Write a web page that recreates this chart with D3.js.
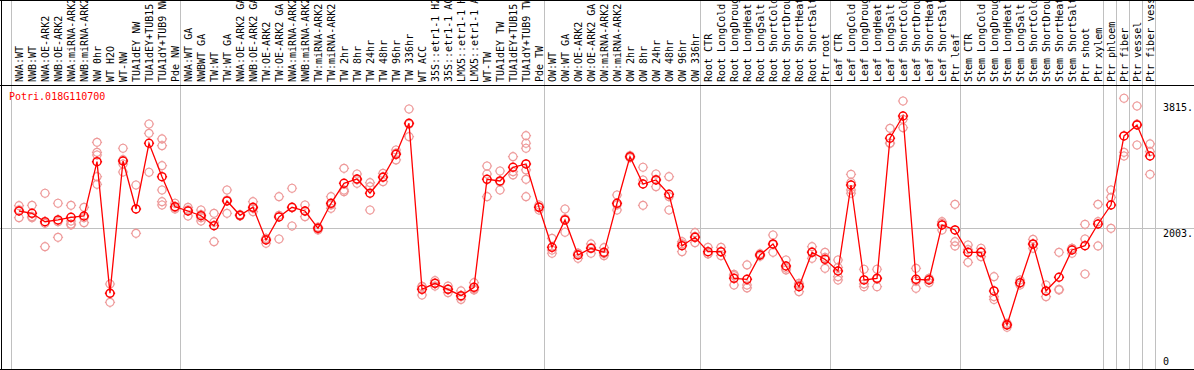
<!DOCTYPE html>
<html lang="en">
<head>
    <meta charset="UTF-8">
    <script src="https://d3js.org/d3.v7.min.js"></script>
    <title>Potri.018G110700</title>
    <style>
        body { margin: 0; background: #fff; }
        text { font-family: "DejaVu Sans Mono", monospace; font-size: 10px; }
    </style>
</head>
<body>
    <div id="chart"></div>
    <script>
        // ---------------- data ----------------
        const geneName = "Potri.018G110700";

        const sampleLabels = [
            "NWA:WT", "NWB:WT", "NWA:OE-ARK2", "NWB:OE-ARK2", "NWA:miRNA-ARK2", "NWB:miRNA-ARK2",
            "NW 0hr", "WT H2O", "WT-NW", "TUA1dEY NW", "TUA1dEY+TUB15", "TUA1dY+TUB9 NW", "Pde NW",
            "NWA:WT GA", "NWBWT GA", "TW:WT", "TW:WT GA", "NWA:OE-ARK2 GA", "NWB:OE-ARK2 GA",
            "TW:OE-ARK2", "TW:OE-ARK2 GA", "NWA:miRNA-ARK2", "NWB:miRNA-ARK2", "TW:miRNA-ARK2", "TW:miRNA-ARK2",
            "TW 2hr", "TW 8hr", "TW 24hr", "TW 48hr", "TW 96hr", "TW 336hr", "WT ACC",
            "35S::etr1-1 H2", "35S::etr1-1 AC", "LMX5::etr1-1 H", "LMX5::etr1-1 A", "WT-TW",
            "TUA1dEY TW", "TUA1dEY+TUB15", "TUA1dY+TUB9 TW", "Pde TW",
            "OW:WT", "OW:WT GA", "OW:OE-ARK2", "OW:OE-ARK2 GA", "OW:miRNA-ARK2", "OW:miRNA-ARK2",
            "OW 2hr", "OW 8hr", "OW 24hr", "OW 48hr", "OW 96hr", "OW 336hr",
            "Root CTR", "Root LongCold", "Root LongDroug", "Root LongHeat", "Root LongSalt",
            "Root ShortCold", "Root ShortDrou", "Root ShortHeat", "Root ShortSalt", "Ptr root",
            "Leaf CTR", "Leaf LongCold", "Leaf LongDroug", "Leaf LongHeat", "Leaf LongSalt",
            "Leaf ShortCold", "Leaf ShortDrou", "Leaf ShortHeat", "Leaf ShortSalt", "Ptr leaf",
            "Stem CTR", "Stem LongCold", "Stem LongDroug", "Stem LongHeat", "Stem LongSalt",
            "Stem ShortCold", "Stem ShortDrou", "Stem ShortHeat", "Stem ShortSalt", "Ptr shoot", "Ptr xylem",
            "Ptr phloem", "Ptr fiber", "Ptr vessel", "Ptr fiber vess"
        ];

        // number of samples in each block between the grey separators
        const groupSizes = [13, 28, 12, 10, 10, 11, 1, 1, 1, 1];

        const meanValues = [
            2252, 2219, 2098, 2123, 2161, 2180, 2961, 1069, 2971, 2281, 3226, 2745, 2314,
            2252, 2184, 2041, 2396, 2190, 2305, 1835, 2166, 2305, 2252, 2003, 2363, 2650, 2712,
            2507, 2737, 3067, 3513, 1126, 1212, 1126, 1034, 1155, 2708, 2684, 2881, 2928, 2305,
            1730, 2123, 1619, 1716, 1658, 2363, 3033, 2640, 2698, 2492, 1753, 1874,
            1667, 1667, 1284, 1270, 1619, 1778, 1461, 1163, 1658, 1557,
            1389, 2626, 1260, 1284, 3298, 3618, 1270, 1260, 2051, 1979,
            1658, 1658, 1102, 613, 1221, 1778, 1102, 1299, 1691, 1753, 2065,
            2338, 3331, 3489, 3043
        ];

        const replicateValues = [
            [2328, 2156, 2270], [2334, 2156, 2170], [2507, 2075, 1739], [2363, 2098, 1874],
            [2334, 2108, 2051, 2065], [2305, 2156, 2084], [3240, 3096, 3057, 2745, 2636],
            [1202, 939, 1066], [3154, 2928, 2813, 2990], [2626, 1931], [3503, 3369, 2809],
            [3288, 3191, 2904, 2554, 2386, 2338], [2363, 2281, 2300],
            [2305, 2180, 2270], [2266, 2156, 2108, 2200], [2219, 1811, 2090], [2554, 2219, 2410],
            [2190, 2200, 2180], [2386, 2242, 2290], [1788, 1860, 1850], [2458, 1849, 2190],
            [2579, 2036, 2300], [2338, 2170, 2250], [1979, 2010, 2020], [2458, 2291, 2340],
            [2866, 2554, 2530], [2784, 2650, 2700], [2659, 2602, 2266], [2794, 2673, 2745],
            [3129, 2986, 3085], [3719, 3321, 3500], [1163, 1044, 1170], [1250, 1173, 1212],
            [1173, 1077, 1128], [1102, 1020, 980], [1221, 1116, 1128], [2899, 2784, 2458],
            [2827, 2554, 2670], [3033, 2817, 2770], [3335, 3226, 3154, 2842, 2708, 2458],
            [2338, 2266, 2310],
            [1859, 1644, 1690], [2281, 1946, 2140], [1572, 1640, 1645], [1778, 1644, 1726],
            [1724, 1609, 1640], [2482, 2266, 2340], [3033, 3050, 3016], [2881, 2334, 2698],
            [2784, 2602, 2708], [2745, 2458, 2266], [1811, 1667, 1780], [1940, 1796, 1886],
            [1730, 1634, 1637], [1730, 1609, 1662], [1342, 1188, 1322], [1476, 1188, 1146],
            [1619, 1600, 1638], [1907, 1658, 1769], [1547, 1404, 1432], [1212, 1092, 1185],
            [1739, 1572, 1663], [1658, 1428, 1585],
            [1547, 1307, 1260, 1440], [2780, 2554, 2507, 2663], [1414, 1163, 1203], [1414, 1163, 1275],
            [3441, 3226, 3227], [3834, 3450, 3570], [1428, 1140, 1242], [1284, 1221, 1275],
            [2098, 1979, 2076], [2348, 1811, 1749],
            [1763, 1514, 1697], [1716, 1595, 1663], [1307, 1020, 979], [637, 580, 622],
            [1260, 1188, 1215], [1845, 1716, 1773], [1188, 1020, 1098], [1658, 1126, 1116],
            [1716, 1644, 1713], [2061, 1849, 1346], [2348, 1749, 2098],
            [2554, 2449, 2003], [3873, 3096, 3043], [3762, 3201, 3500], [3216, 3105, 2780]
        ];

        const yTickValues = [0, 2003, 3815];
        const yTickLabels = ["0", "2003.", "3815."];

        // ---------------- layout ----------------
        const width = 1194;
        const height = 370;
        const headerBottom = 85.5;
        const plotBottom = 369.5;

        const svg = d3.select("#chart").append("svg")
            .attr("width", width)
            .attr("height", height);

        const x = d3.scaleBand()
            .domain(d3.range(sampleLabels.length))
            .range([12.5, 12.5 + 13 * sampleLabels.length]);
        const xc = i => x(i) + x.bandwidth() / 2;

        const y = d3.scaleLinear()
            .domain([0, 3815])
            .range([367.6, 102.3]);

        // group separators (vertical grey lines)
        const starts = [0];
        groupSizes.forEach(n => starts.push(starts[starts.length - 1] + n));
        const sepX = starts.map(s => s < sampleLabels.length ? x(s) - 1 : x(s - 1) + x.bandwidth() - 1);

        svg.selectAll("line.sep")
            .data(sepX)
            .enter()
            .append("line")
            .attr("class", "sep")
            .attr("x1", d => d).attr("x2", d => d)
            .attr("y1", 0).attr("y2", plotBottom)
            .attr("stroke", "#c0c0c0")
            .attr("stroke-width", 1);

        // horizontal grid line at the middle tick
        svg.append("line")
            .attr("x1", 0).attr("x2", width)
            .attr("y1", Math.round(y(2003)) + 0.5).attr("y2", Math.round(y(2003)) + 0.5)
            .attr("stroke", "#c0c0c0");

        // frame
        [[0, 0.5, width, 0.5], [0, headerBottom, width, headerBottom], [0, plotBottom, width, plotBottom], [1.5, 0, 1.5, plotBottom]]
            .forEach(l => svg.append("line")
                .attr("x1", l[0]).attr("y1", l[1]).attr("x2", l[2]).attr("y2", l[3])
                .attr("stroke", "#000"));

        // sample labels in the header
        svg.selectAll("text.sample")
            .data(sampleLabels)
            .enter()
            .append("text")
            .attr("class", "sample")
            .attr("transform", (d, i) => `translate(${xc(i) + 3.5},82) rotate(-90)`)
            .attr("fill", "#000")
            .text(d => d);

        // gene name
        svg.append("text")
            .attr("x", 9)
            .attr("y", 100)
            .attr("fill", "#ff0000")
            .text(geneName);

        // y labels on the right
        svg.selectAll("text.ytick")
            .data(yTickValues)
            .enter()
            .append("text")
            .attr("class", "ytick")
            .attr("x", 1163)
            .attr("y", d => Math.min(y(d) + 8.5, 365))
            .attr("fill", "#000")
            .text((d, i) => yTickLabels[i]);

        // marker: open circle with four small ticks
        const r = 4;
        const t = 1.1;
        const markerPath = `M${-r},0A${r},${r} 0 1,0 ${r},0A${r},${r} 0 1,0 ${-r},0` +
            `M0,${-r}V${-r - t}M0,${r}V${r + t}M${-r},0H${-r - t}M${r},0H${r + t}`;

        // replicates
        const reps = [];
        replicateValues.forEach((arr, i) => arr.forEach(v => reps.push({ i, v })));

        svg.selectAll("path.rep")
            .data(reps)
            .enter()
            .append("path")
            .attr("class", "rep")
            .attr("d", markerPath)
            .attr("transform", d => `translate(${xc(d.i)},${y(d.v)})`)
            .attr("fill", "none")
            .attr("stroke", "#ee9a9a")
            .attr("stroke-width", 1.2);

        // mean line
        const line = d3.line()
            .x((d, i) => xc(i))
            .y(d => y(d));

        svg.append("path")
            .datum(meanValues)
            .attr("d", line)
            .attr("fill", "none")
            .attr("stroke", "#ff0000")
            .attr("stroke-width", 1.3);

        svg.selectAll("path.mean")
            .data(meanValues)
            .enter()
            .append("path")
            .attr("class", "mean")
            .attr("d", markerPath)
            .attr("transform", (d, i) => `translate(${xc(i)},${y(d)})`)
            .attr("fill", "none")
            .attr("stroke", "#ff0000")
            .attr("stroke-width", 1.5);
    </script>
</body>
</html>
